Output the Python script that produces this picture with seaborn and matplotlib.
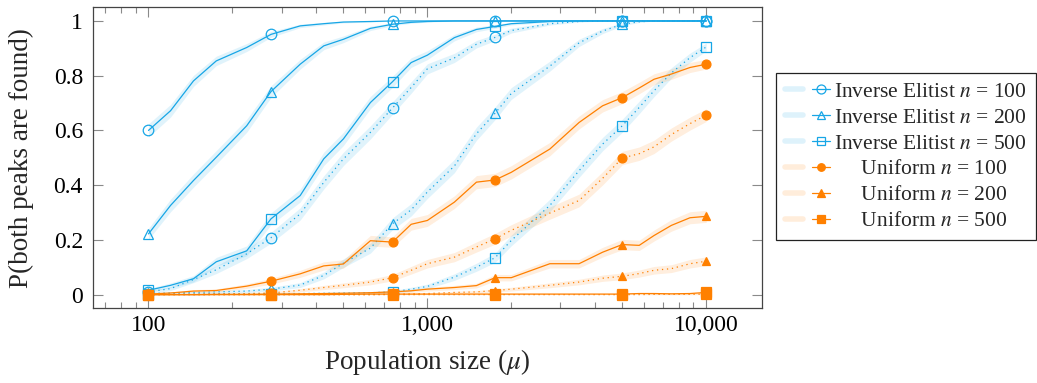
import numpy as np
import pandas as pd
import matplotlib
matplotlib.use("Agg")
import matplotlib.pyplot as plt
from matplotlib.lines import Line2D
from matplotlib.legend_handler import HandlerTuple
from matplotlib.ticker import FixedLocator, FuncFormatter, LogLocator, NullFormatter
import seaborn as sns

# Population sizes (mu) at which the success rate was measured
pop_size = [100, 120, 145, 175, 225, 275, 350, 425, 500, 625, 750, 875, 1000,
            1250, 1500, 1750, 2000, 2750, 3500, 4250, 5000, 5750, 6500, 7500,
            8750, 10000]

# Probability that both peaks are found (solid and dotted variants)
inv_elitist_100 = [0.60, 0.672, 0.781, 0.854, 0.903, 0.951, 0.982, 0.990, 0.996,
                   0.998, 1.0, 1.0, 1.0, 1.0, 1.0, 1.0, 1.0, 1.0, 1.0, 1.0, 1.0,
                   1.0, 1.0, 1.0, 1.0, 1.0]
inv_elitist_100_dot = [0.01, 0.022, 0.055, 0.091, 0.149, 0.208, 0.295, 0.41, 0.496,
                       0.593, 0.682, 0.757, 0.825, 0.865, 0.915, 0.94, 0.965, 0.99,
                       0.998, 1.0, 1.0, 1.0, 1.0, 1.0, 1.0, 1.0]
inv_elitist_200 = [0.222, 0.326, 0.417, 0.502, 0.617, 0.742, 0.842, 0.909, 0.933,
                   0.973, 0.988, 0.995, 0.998, 1.0, 1.0, 1.0, 1.0, 1.0, 1.0, 1.0,
                   1.0, 1.0, 1.0, 1.0, 1.0, 1.0]
inv_elitist_200_dot = [0.005, 0.006, 0.008, 0.01, 0.013, 0.02, 0.035, 0.07, 0.115,
                       0.17, 0.259, 0.31, 0.375, 0.47, 0.588, 0.663, 0.735, 0.835,
                       0.92, 0.963, 0.988, 0.997, 1.0, 1.0, 1.0, 1.0]
inv_elitist_500 = [0.016, 0.034, 0.058, 0.12, 0.16, 0.277, 0.362, 0.496, 0.569,
                   0.702, 0.778, 0.848, 0.875, 0.939, 0.969, 0.98, 0.99, 0.998,
                   1.0, 1.0, 1.0, 1.0, 1.0, 1.0, 1.0, 1.0]
inv_elitist_500_dot = [0.002, 0.002, 0.002, 0.003, 0.003, 0.004, 0.004, 0.005, 0.006,
                       0.007, 0.01, 0.02, 0.03, 0.064, 0.10, 0.135, 0.198, 0.326,
                       0.453, 0.55, 0.617, 0.684, 0.745, 0.81, 0.866, 0.905]
uniform_100 = [0.002, 0.006, 0.013, 0.015, 0.031, 0.049, 0.076, 0.105, 0.112, 0.197,
               0.192, 0.257, 0.271, 0.338, 0.411, 0.419, 0.447, 0.532, 0.629, 0.69,
               0.72, 0.755, 0.787, 0.806, 0.83, 0.842]
uniform_100_dot = [0.001, 0.002, 0.002, 0.003, 0.004, 0.006, 0.016, 0.026, 0.034,
                   0.046, 0.062, 0.089, 0.113, 0.137, 0.174, 0.204, 0.235, 0.298,
                   0.344, 0.425, 0.499, 0.515, 0.54, 0.585, 0.625, 0.656]
uniform_200 = [0.0, 0.0, 0.0, 0.001, 0.001, 0.002, 0.003, 0.004, 0.005, 0.007, 0.01,
               0.014, 0.02, 0.026, 0.033, 0.062, 0.062, 0.113, 0.113, 0.155, 0.183,
               0.18, 0.216, 0.253, 0.281, 0.286]
uniform_200_dot = [0.0, 0.0, 0.0, 0.0, 0.0, 0.0, 0.0, 0.0, 0.0, 0.0, 0.002, 0.003,
                   0.004, 0.008, 0.01, 0.015, 0.02, 0.034, 0.046, 0.06, 0.067, 0.077,
                   0.089, 0.095, 0.113, 0.122]
uniform_500 = [0.0, 0.0, 0.0, 0.0, 0.0, 0.0, 0.0, 0.0, 0.001, 0.002, 0.002, 0.002,
               0.002, 0.002, 0.002, 0.002, 0.002, 0.002, 0.002, 0.002, 0.002, 0.004,
               0.004, 0.003, 0.004, 0.008]
uniform_500_dot = [0.0] * 22 + [0.001, 0.001, 0.001, 0.002]

legend_labels = [
    "Inverse Elitist $n$ = 100",
    "Inverse Elitist $n$ = 200",
    "Inverse Elitist $n$ = 500",
    "     Uniform $n$ = 100",
    "     Uniform $n$ = 200",
    "     Uniform $n$ = 500",
]

RUNS = 1600          # independent runs per configuration (for the shaded 95% band)
MARK_EVERY = 5

BLUE = "#17A6E6"
ORANGE = "#FF8000"

sns.set_theme(style="ticks")
plt.rcParams["font.family"] = ["Liberation Serif", "DejaVu Serif"]
plt.rcParams["mathtext.fontset"] = "stix"

fig = plt.figure(figsize=(10.37, 3.83), dpi=100)
ax = fig.add_axes([0.0894, 0.195, 0.6454, 0.786])

families = [
    # (solid, dotted, colour, marker, filled, marker size)
    (inv_elitist_100, inv_elitist_100_dot, BLUE, "o", False, 7.6),
    (inv_elitist_200, inv_elitist_200_dot, BLUE, "^", False, 7.0),
    (inv_elitist_500, inv_elitist_500_dot, BLUE, "s", False, 7.4),
    (uniform_100, uniform_100_dot, ORANGE, "o", True, 6.4),
    (uniform_200, uniform_200_dot, ORANGE, "^", True, 6.0),
    (uniform_500, uniform_500_dot, ORANGE, "s", True, 6.6),
]

x = np.array(pop_size, dtype=float)

# confidence bands underneath every curve
for solid, dotted, colour, marker, filled, ms in families:
    for vals in (solid, dotted):
        p = np.array(vals)
        half = 1.96 * np.sqrt(p * (1 - p) / RUNS)
        ax.fill_between(x, p - half, p + half, color=colour, alpha=0.13,
                        linewidth=0, zorder=1)

handles = []
for solid, dotted, colour, marker, filled, ms in families:
    face = colour if filled else "none"
    for vals, ls in ((dotted, (0, (1, 3))), (solid, "-")):
        df = pd.DataFrame({"mu": pop_size, "p": vals})
        sns.lineplot(data=df, x="mu", y="p", ax=ax, color=colour, linestyle=ls,
                     linewidth=0.9, marker=marker, markevery=MARK_EVERY,
                     markersize=ms, markerfacecolor=face, markeredgecolor=colour,
                     markeredgewidth=0.9, errorbar=None, legend=False, zorder=3)
    band = Line2D([], [], color=colour, alpha=0.14, linewidth=4)
    line = Line2D([], [], color=colour, linewidth=0.9, marker=marker,
                  markersize=ms * 0.85, markerfacecolor=face,
                  markeredgecolor=colour, markeredgewidth=0.9)
    handles.append((band, line))

ax.set_xscale("log")
ax.set_xlim(10 ** 1.8, 10 ** 4.2)
ax.set_ylim(-0.05, 1.05)
ax.xaxis.set_major_locator(FixedLocator([100, 1000, 10000]))
ax.xaxis.set_major_formatter(FuncFormatter(lambda v, _: f"{int(round(v)):,}"))
ax.xaxis.set_minor_locator(LogLocator(base=10, subs=np.arange(2, 10), numticks=30))
ax.xaxis.set_minor_formatter(NullFormatter())
ax.set_yticks([0, 0.2, 0.4, 0.6, 0.8, 1.0])
ax.set_yticklabels(["0", "0.2", "0.4", "0.6", "0.8", "1"])

ax.tick_params(which="both", direction="in", top=True, right=True,
               color="#8a8a8a", width=0.8, labelcolor="black", labelsize=17)
ax.tick_params(which="major", length=7.5)
ax.tick_params(which="minor", length=4.5)
ax.tick_params(axis="x", pad=4.5)
ax.tick_params(axis="y", pad=7)
for sp in ax.spines.values():
    sp.set_color("#444444")
    sp.set_linewidth(0.9)

ax.set_xlabel("Population size ($\\mu$)", fontsize=19.5)
ax.set_ylabel("P(both peaks are found)", fontsize=19.5)
ax.xaxis.set_label_coords(0.5, -0.13)
ax.yaxis.set_label_coords(-0.088, 0.5)

leg = ax.legend(handles, legend_labels, loc="upper left",
                bbox_to_anchor=(775.7 / 1037, 1 - 72.7 / 383),
                bbox_transform=fig.transFigure, borderaxespad=0,
                frameon=True, fancybox=False, framealpha=1, edgecolor="#222222",
                fontsize=15.5, handlelength=2.1, handletextpad=0.2,
                labelspacing=0.27, borderpad=0.42,
                handler_map={tuple: HandlerTuple(ndivide=None)})
leg.get_frame().set_linewidth(0.9)

fig.savefig("out.png", dpi=100)
